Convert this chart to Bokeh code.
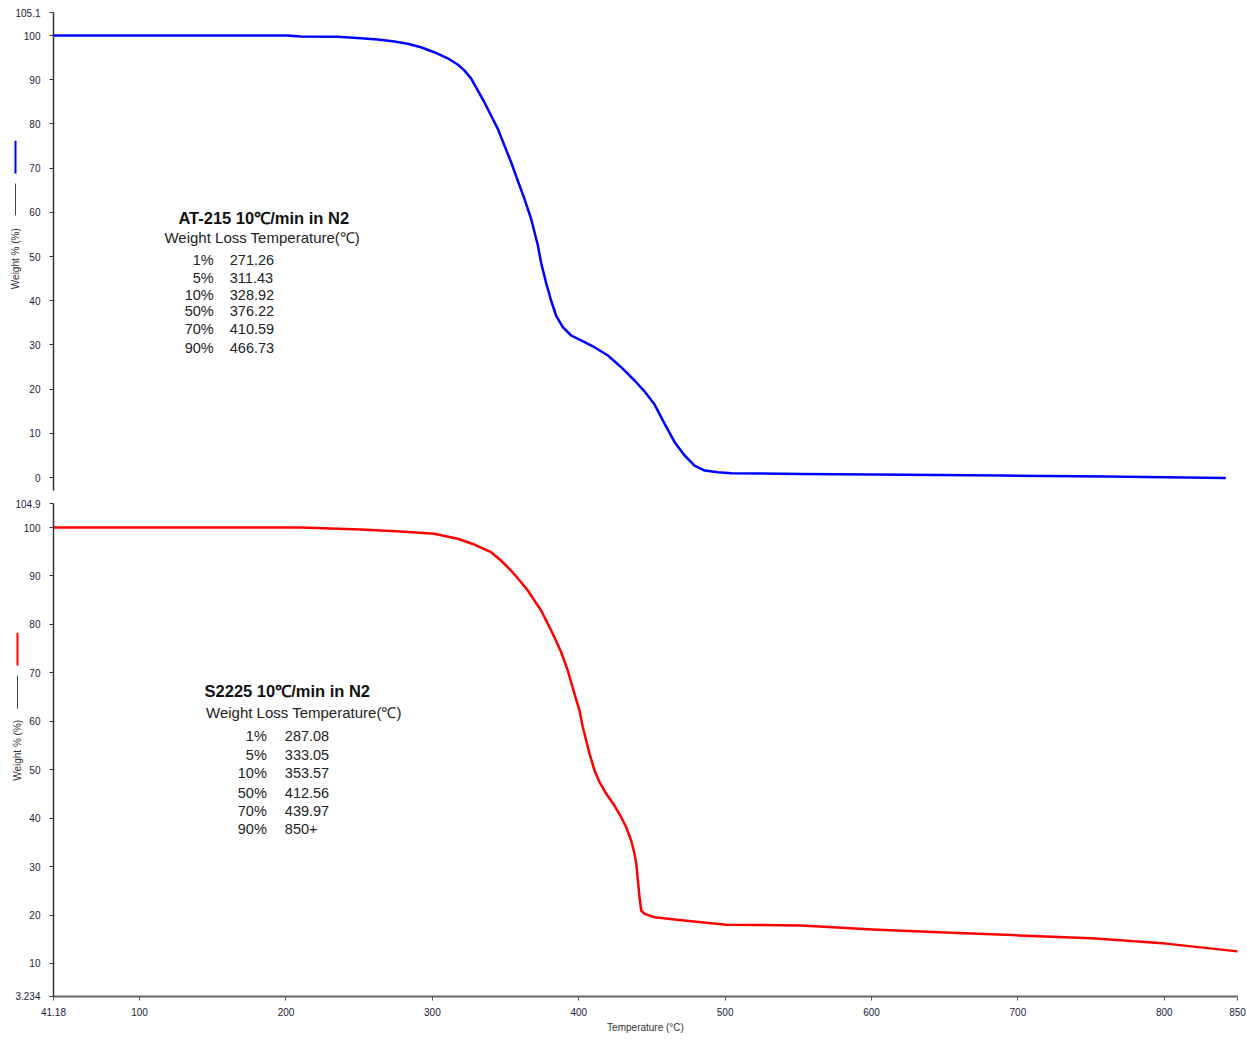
from bokeh.plotting import figure
from bokeh.models import Range1d, FixedTicker, Label, CustomJSTickFormatter
from bokeh.core.properties import value
from bokeh.layouts import column
from bokeh.embed import file_html
from bokeh.resources import INLINE
import math

# ---- data ----
at_temp = [41.18, 200.6, 210.1, 235.4, 251.2, 262.6, 274.0, 283.1, 292.2, 301.3, 310.5,
           317.3, 321.8, 326.4, 331.0, 335.5, 340.1, 344.7, 349.2, 353.8, 358.3, 362.9,
           367.4, 372.0, 374.3, 377.7, 381.1, 384.5, 389.1, 394.8, 401.6, 410.7, 419.9,
           429.0, 438.1, 444.9, 451.8, 458.6, 465.5, 472.3, 479.1, 486.0, 495.1, 504.3,
           552.1, 600.7, 688.9, 760.0, 842.0]
at_weight = [100.0, 100.0, 99.8, 99.7, 99.4, 99.1, 98.64, 98.12, 97.35, 96.22, 94.85,
             93.45, 92.1, 90.3, 87.6, 84.91, 81.9, 78.89, 75.11, 71.33, 67.19, 63.05,
             58.6, 52.6, 48.6, 44.0, 40.05, 36.65, 34.0, 32.13, 31.0, 29.48, 27.6,
             24.95, 21.95, 19.5, 16.5, 12.2, 7.99, 4.98, 2.71, 1.58, 1.2, 0.97,
             0.8, 0.7, 0.45, 0.25, -0.1]

s_temp = [41.18, 210.1, 251.2, 278.5, 301.3, 317.3, 328.7, 340.1, 346.9, 353.8, 360.6,
          365.2, 369.7, 374.3, 378.9, 383.4, 388.0, 392.5, 397.1, 400.5, 402.8, 405.1,
          407.4, 410.8, 414.2, 418.8, 424.4, 429.0, 432.4, 435.8, 438.1, 439.3, 440.4,
          441.5, 442.7, 444.9, 451.8, 465.5, 483.7, 500.8, 552.1, 600.7, 650.6, 700.5,
          750.5, 801.1, 850.0]
s_weight = [100.0, 100.0, 99.6, 99.17, 98.7, 97.67, 96.49, 94.9, 93.19, 91.12, 88.71,
            86.99, 84.93, 82.87, 80.12, 77.35, 74.26, 70.48, 65.67, 62.22, 58.77, 56.03,
            53.28, 49.83, 47.42, 45.03, 42.61, 40.19, 38.13, 35.38, 32.64, 30.57, 27.12,
            23.68, 20.93, 20.25, 19.55, 19.08, 18.52, 18.0, 17.84, 17.0, 16.4, 15.8,
            15.2, 14.1, 12.5]

at_title = "AT-215 10℃/min in N2"
s_title = "S2225 10℃/min in N2"
subtitle = "Weight Loss Temperature(℃)"
loss_pct = ["1%", "5%", "10%", "50%", "70%", "90%"]
at_loss_temp = ["271.26", "311.43", "328.92", "376.22", "410.59", "466.73"]
s_loss_temp = ["287.08", "333.05", "353.57", "412.56", "439.97", "850+"]

top_yticks = [0, 10, 20, 30, 40, 50, 60, 70, 80, 90, 100, 105.1]
bot_yticks = [3.234, 10, 20, 30, 40, 50, 60, 70, 80, 90, 100, 104.9]
xticks = [41.18, 100, 200, 300, 400, 500, 600, 700, 800, 850]
x_min, x_max = 41.18, 850.0
top_y_bounds = (-2.9, 105.1)
bot_y_bounds = (3.234, 104.9)
y_label = "Weight % (%)"
x_label = "Temperature (°C)"

FONT = "Liberation Sans"
fmt = CustomJSTickFormatter(code="return tick.toString();")

# frames fill the whole page; axes are fixed inside them (so labels are not clipped)
x_range = Range1d(4.98, 856.15)


def style_y(p, bounds):
    p.grid.visible = False
    p.outline_line_color = None
    p.min_border_left = 0
    p.min_border_right = 0
    p.min_border_top = 0
    p.min_border_bottom = 0
    for ax in p.yaxis:
        ax.fixed_location = x_min
        ax.bounds = bounds
        ax.major_label_text_font = FONT
        ax.major_label_text_font_size = "10px"
        ax.major_label_text_color = "#1c1c3a"
        ax.axis_line_color = "#333333"
        ax.axis_line_width = 1.5
        ax.major_tick_line_color = "#333333"
        ax.major_tick_out = 4
        ax.major_tick_in = 0
        ax.minor_tick_line_color = None
        ax.major_label_standoff = 9
        ax.formatter = fmt


# ---- top figure ----
p1 = figure(width=1246, height=495, x_range=x_range, y_range=Range1d(-4.07, 107.92),
            output_backend="svg", toolbar_location=None)
p1.xaxis.visible = False
p1.yaxis.ticker = FixedTicker(ticks=top_yticks)
style_y(p1, top_y_bounds)
p1.line(at_temp, at_weight, line_color="#0000ff", line_width=2.5, line_join="round")

# ---- bottom figure ----
p2 = figure(width=1246, height=545, x_range=x_range, y_range=Range1d(-5.9, 106.61),
            output_backend="svg", toolbar_location=None)
p2.yaxis.ticker = FixedTicker(ticks=bot_yticks)
p2.xaxis.ticker = FixedTicker(ticks=xticks)
style_y(p2, bot_y_bounds)
xa = p2.xaxis[0]
xa.fixed_location = bot_y_bounds[0]
xa.bounds = (x_min, x_max)
xa.formatter = fmt
xa.major_label_text_font = FONT
xa.major_label_text_font_size = "10px"
xa.major_label_text_color = "#1c1c3a"
xa.axis_line_color = "#666666"
xa.axis_line_width = 2
xa.major_tick_line_color = "#555555"
xa.major_tick_out = 4
xa.major_tick_in = 0
xa.minor_tick_line_color = None
xa.major_label_standoff = 8
p2.line(s_temp, s_weight, line_color="#ff0000", line_width=2.5, line_join="round")
p2.add_layout(Label(x=445.6, y=-3.22, text=x_label, text_font=FONT, text_font_size="10px",
                    text_align="center", text_baseline="middle", text_color="#333333"))


def add_block(p, title, tx, ty, stx, sty, pct_x, val_x, rows_y, vals):
    p.add_layout(Label(x=tx, y=ty, text=title, text_font=FONT, text_font_style="bold",
                       text_font_size="16.5px", text_align="center", text_baseline="middle",
                       text_color="#111111"))
    p.add_layout(Label(x=stx, y=sty, text=subtitle, text_font=FONT,
                       text_font_size="15px", text_align="center", text_baseline="middle",
                       text_color="#222222"))
    for pct, v, yy in zip(loss_pct, vals, rows_y):
        p.add_layout(Label(x=pct_x, y=yy, text=pct, text_font=FONT, text_font_size="14.5px",
                           text_align="right", text_baseline="middle", text_color="#222222"))
        p.add_layout(Label(x=val_x, y=yy, text=v, text_font=FONT, text_font_size="14.5px",
                           text_align="left", text_baseline="middle", text_color="#222222"))


add_block(p1, at_title, 184.8, 58.8, 183.8, 54.3, 150.6, 161.6,
          [49.3, 45.2, 41.4, 37.6, 33.7, 29.2], at_loss_temp)
add_block(p2, s_title, 200.9, 66.35, 212.2, 61.8, 186.9, 199.2,
          [57.06, 53.14, 49.22, 45.29, 41.58, 37.86], s_loss_temp)


def add_ylabel(p, x, color, c0, c1, k0, k1, ly):
    p.segment(x0=[x], y0=[c0], x1=[x], y1=[c1], line_color=color, line_width=2)
    p.segment(x0=[x], y0=[k0], x1=[x], y1=[k1], line_color="#444444", line_width=1)
    p.text(x=[x], y=[ly], text=[y_label], angle=math.pi / 2,
           text_font=value(FONT), text_font_size="10px", text_align="center",
           text_baseline="middle", text_color="#333333")


add_ylabel(p1, 15.23, "#0000ff", 76.2, 68.8, 66.5, 59.3, 49.5)
add_ylabel(p2, 16.6, "#ff0000", 78.3, 71.5, 69.4, 62.6, 54.0)

layout = column(p1, p2, spacing=0)
open("out.html", "w").write(file_html(layout, INLINE))
